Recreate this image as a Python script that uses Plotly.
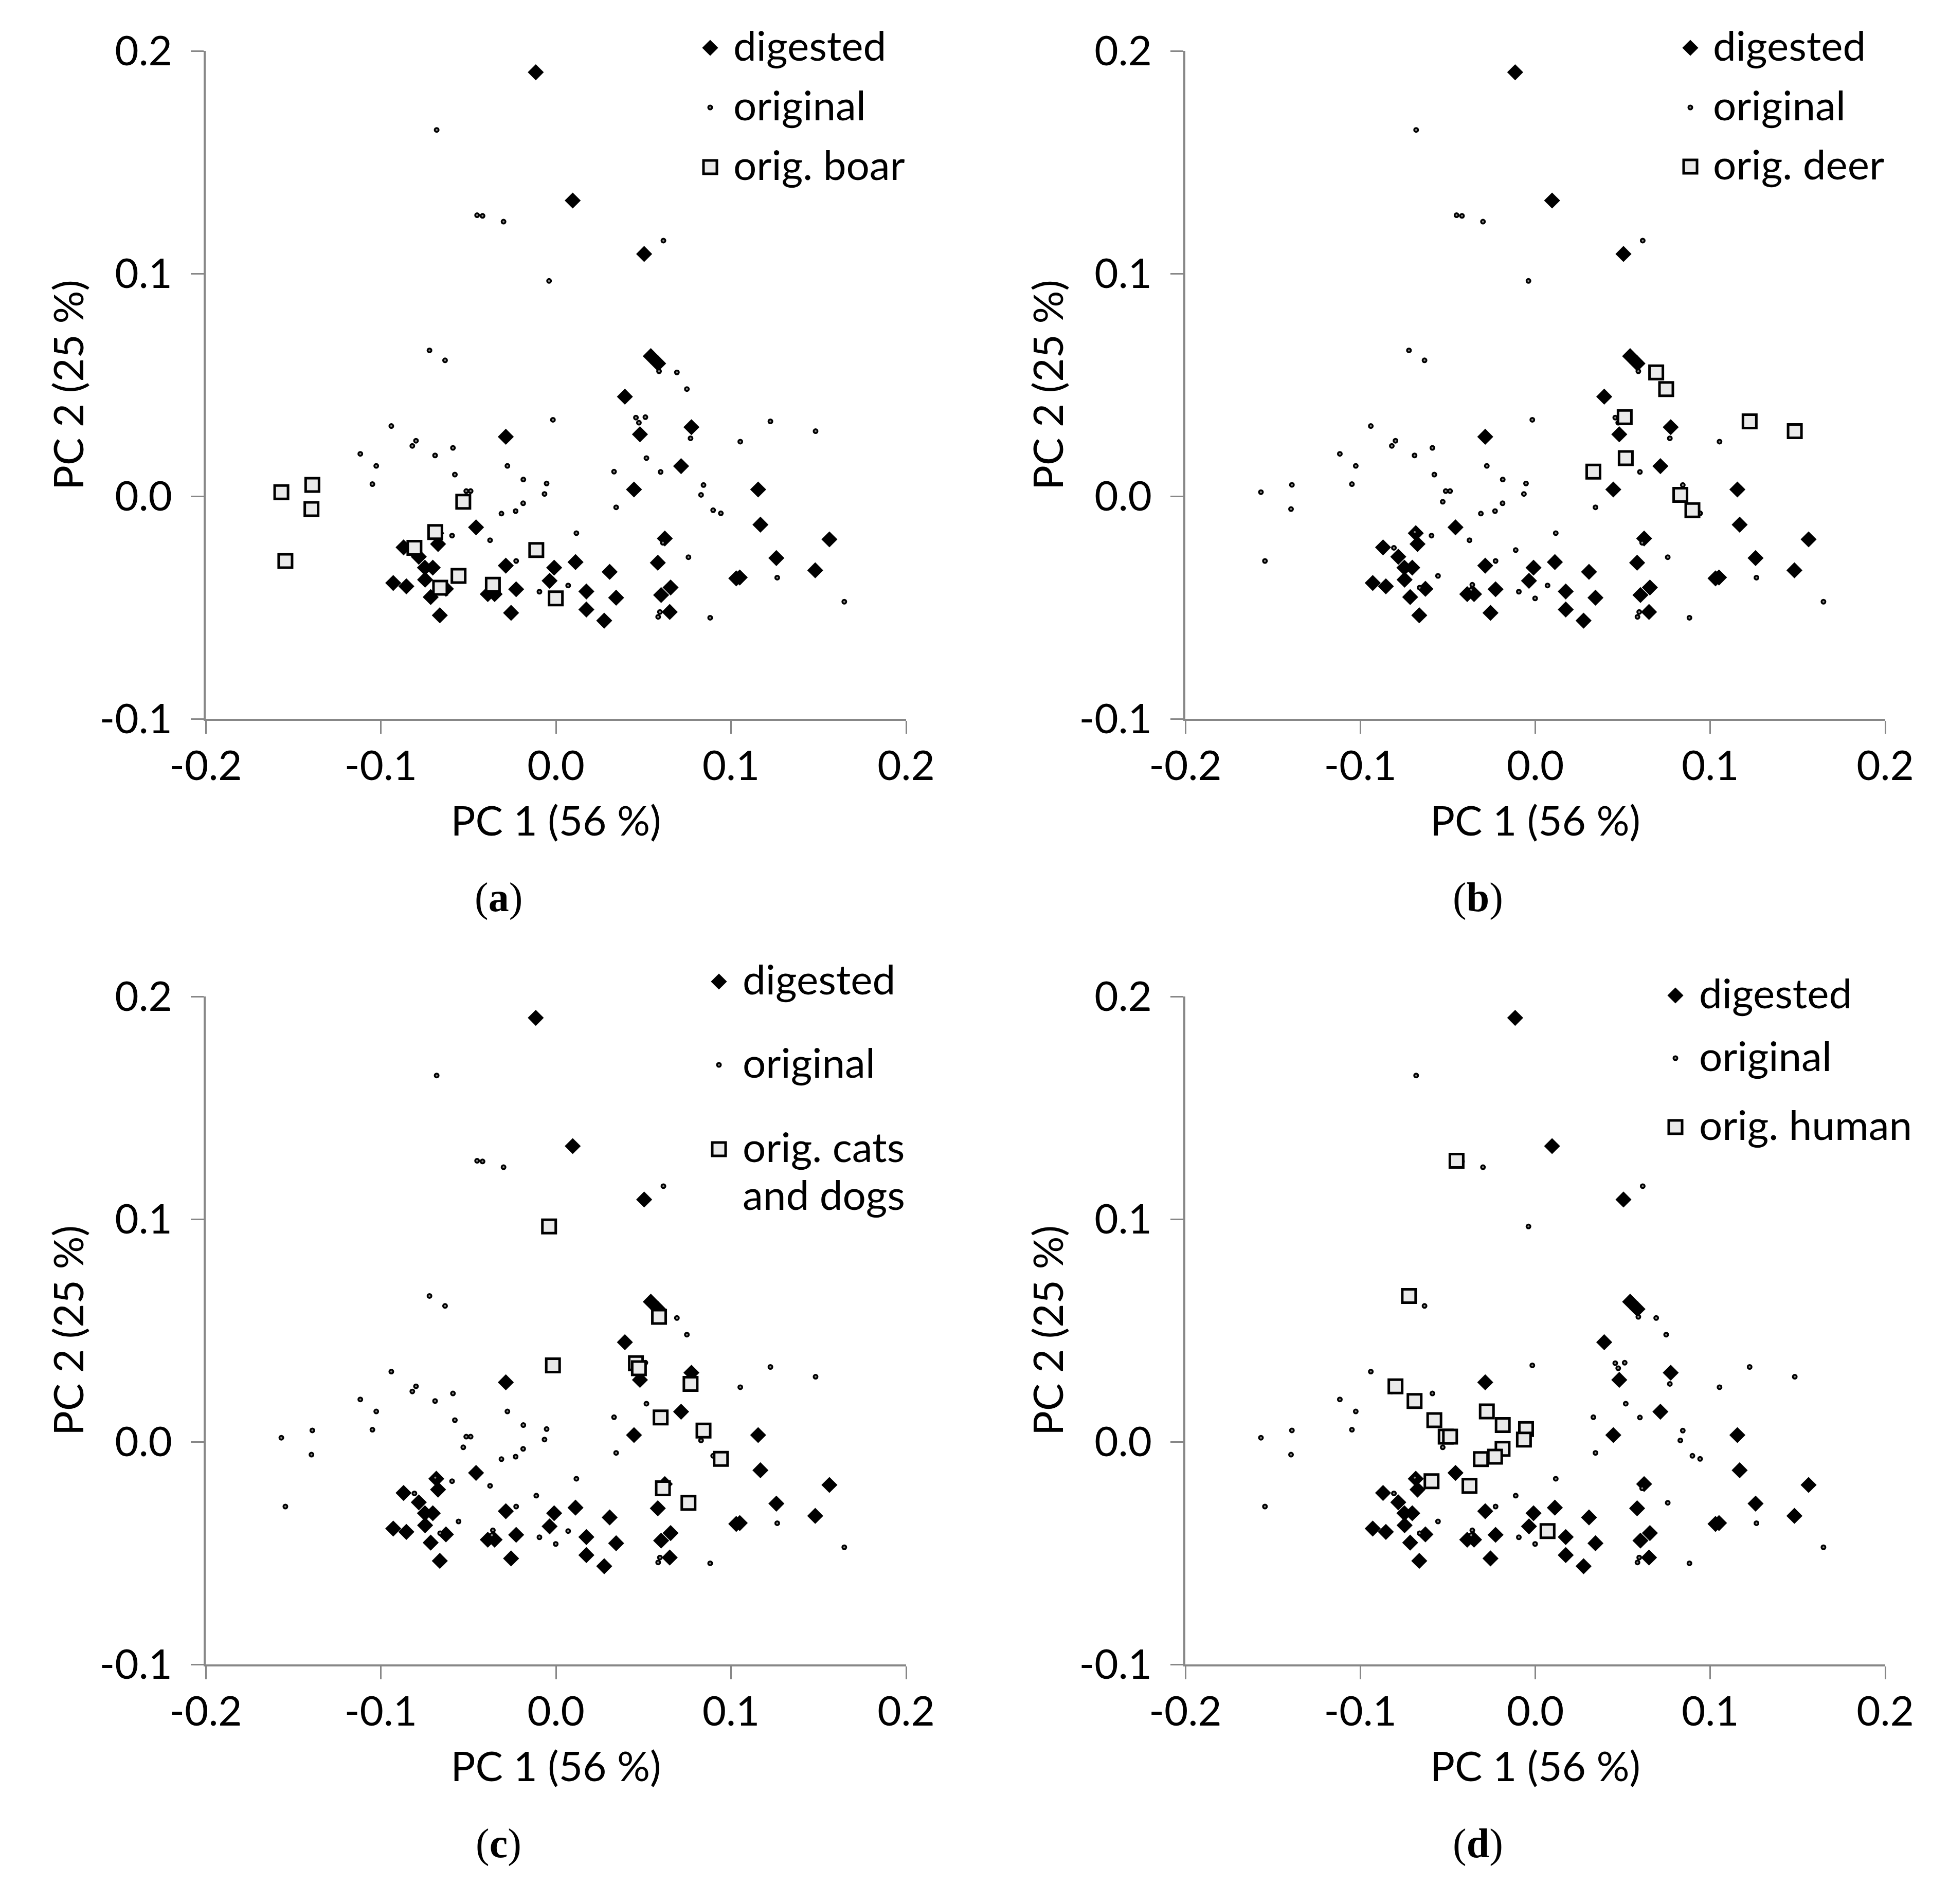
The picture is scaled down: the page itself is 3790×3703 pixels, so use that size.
import plotly.graph_objects as go

# ---- data ----
# digested samples (identical in every panel)
digested_x = [-0.0115, 0.0096, 0.0504, 0.0542, 0.0584, 0.0394, 0.0774, 0.0480, 0.0715, 0.0446,
              0.1155, 0.1168, 0.0622, 0.1562, 0.1259, 0.0112, 0.0582, -0.0010, 0.1481, 0.0307,
              0.1030, 0.1050, 0.0174, 0.0344, 0.0655, 0.0601, 0.0174, 0.0650, 0.0276, -0.0286,
              -0.0456, -0.0683, -0.0673, -0.0870, -0.0783, -0.0748, -0.0703, -0.0747, -0.0929, -0.0854,
              -0.0715, -0.0628, -0.0286, -0.0389, -0.0350, -0.0227, -0.0663, -0.0256, -0.0036]
digested_y = [0.1904, 0.1328, 0.1088, 0.0629, 0.0596, 0.0447, 0.0310, 0.0278, 0.0135, 0.0030,
              0.0030, -0.0128, -0.0190, -0.0194, -0.0278, -0.0296, -0.0299, -0.0321, -0.0333, -0.0340,
              -0.0369, -0.0365, -0.0428, -0.0456, -0.0410, -0.0444, -0.0509, -0.0520, -0.0559, 0.0267,
              -0.0140, -0.0166, -0.0215, -0.0230, -0.0272, -0.0321, -0.0321, -0.0375, -0.0390, -0.0405,
              -0.0453, -0.0416, -0.0312, -0.0440, -0.0440, -0.0418, -0.0535, -0.0524, -0.0380]

# original samples outside the four highlighted groups
other_x = [-0.0681, -0.0419, -0.0299, 0.0614, -0.0633, -0.0940, -0.0820, -0.0588, -0.1117, -0.1026,
           -0.1048, -0.0227, -0.0366, -0.0094, 0.1053, 0.0344, 0.0117, 0.1264, 0.1647, 0.0594,
           0.0584, 0.0881]
other_y = [0.1645, 0.1259, 0.1233, 0.1148, 0.0610, 0.0315, 0.0226, 0.0217, 0.0190, 0.0136,
           0.0054, -0.0291, -0.0420, -0.0429, 0.0245, -0.0050, -0.0166, -0.0366, -0.0474, -0.0520,
           -0.0542, -0.0546]

boar_x = [-0.1568, -0.1391, -0.1396, -0.1545, -0.0529, -0.0689, -0.0808, -0.0556, -0.0661, -0.0112,
          -0.0360, -0.0001]
boar_y = [0.0018, 0.0051, -0.0058, -0.0291, -0.0025, -0.0161, -0.0232, -0.0358, -0.0411, -0.0242,
          -0.0398, -0.0459]

deer_x = [0.0691, 0.0748, 0.0511, 0.1225, 0.1483, 0.0517, 0.0332, 0.0829, 0.0898]
deer_y = [0.0556, 0.0481, 0.0355, 0.0336, 0.0292, 0.0171, 0.0110, 0.0006, -0.0063]

cats_x = [-0.0039, -0.0017, 0.0589, 0.0457, 0.0474, 0.0769, 0.0598, 0.0843, 0.0942, 0.0611, 0.0757]
cats_y = [0.0967, 0.0343, 0.0561, 0.0353, 0.0330, 0.0260, 0.0109, 0.0050, -0.0077, -0.0209, -0.0274]

human_x = [-0.0450, -0.0722, -0.0799, -0.0690, -0.0577, -0.0512, -0.0487, -0.0277, -0.0186, -0.0053,
           -0.0065, -0.0187, -0.0230, -0.0311, -0.0593, -0.0376, 0.0070]
human_y = [0.1262, 0.0655, 0.0249, 0.0183, 0.0097, 0.0023, 0.0023, 0.0136, 0.0075, 0.0057,
           0.0010, -0.0032, -0.0067, -0.0078, -0.0177, -0.0198, -0.0401]

x_ticks = [-0.2, -0.1, 0.0, 0.1, 0.2]
x_tick_labels = ["-0.2", "-0.1", "0.0", "0.1", "0.2"]
y_ticks = [-0.1, 0.0, 0.1, 0.2]
y_tick_labels = ["-0.1", "0.0", "0.1", "0.2"]

panel_letters = ["a", "b", "c", "d"]
group_labels = [["orig. boar"], ["orig. deer"], ["orig. cats", "and dogs"], ["orig. human"]]
group_data = [(boar_x, boar_y), (deer_x, deer_y), (cats_x, cats_y), (human_x, human_y)]

# ---- page geometry (pixels) ----
W, H = 3790, 3703
COLS = [(400, 1762), (2305, 3666)]
ROWS = [(99, 1398), (1938, 3237)]
# legend: key x, text x, row centres
LEGENDS = [
    (1381, 1424, [93, 209, 325]),
    (3287, 3329, [93, 209, 324]),
    (1398, 1442, [1909, 2071, 2235]),
    (3258, 3302, [1936, 2058, 2192]),
]
CAPTIONS = [(969, 1745), (2874, 1745), (969, 3585), (2874, 3585)]

FONT = "Lato"
GREY = "#878787"

diamond = dict(symbol="diamond", size=24, color="black", line=dict(width=0))
dot = dict(symbol="circle", size=7.5, color="#8a8a8a", line=dict(width=3.5, color="black"))
box = dict(symbol="square", size=26, color="#eaeaea", line=dict(width=5, color="black"))

fig = go.Figure()
layout = dict(
    width=W, height=H, margin=dict(l=0, r=0, t=0, b=0),
    paper_bgcolor="white", plot_bgcolor="rgba(0,0,0,0)",
    showlegend=False, font=dict(family=FONT, size=80, color="black"),
    annotations=[],
)

for i in range(4):
    r, c = divmod(i, 2)
    sfx = "" if i == 0 else str(i + 1)
    gx, gy = group_data[i]
    ox, oy = list(other_x), list(other_y)
    for j, (ax_, ay_) in enumerate(group_data):
        if j != i:
            ox += ax_
            oy += ay_

    fig.add_trace(go.Scatter(x=digested_x, y=digested_y, mode="markers", marker=diamond,
                             name="digested", xaxis="x" + sfx, yaxis="y" + sfx))
    fig.add_trace(go.Scatter(x=ox, y=oy, mode="markers", marker=dot,
                             name="original", xaxis="x" + sfx, yaxis="y" + sfx))
    fig.add_trace(go.Scatter(x=gx, y=gy, mode="markers", marker=box,
                             name=" ".join(group_labels[i]), xaxis="x" + sfx, yaxis="y" + sfx))

    x0, x1 = COLS[c]
    y0, y1 = ROWS[r]
    common = dict(showline=True, linecolor=GREY, linewidth=4, mirror=False, automargin=False,
                  ticks="outside", ticklen=25, tickwidth=3, tickcolor=GREY,
                  showgrid=False, zeroline=False,
                  tickfont=dict(family=FONT, size=80, color="black"))
    layout["xaxis" + sfx] = dict(common, domain=[x0 / W, x1 / W], range=[-0.2, 0.2],
                                 anchor="y" + sfx, tickvals=x_ticks, ticktext=x_tick_labels,
                                 ticklabelstandoff=-6,
                                 title=dict(text="PC 1 (56 %)", standoff=37,
                                            font=dict(family=FONT, size=80, color="black")))
    layout["yaxis" + sfx] = dict(common, domain=[1 - y1 / H, 1 - y0 / H], range=[-0.1, 0.2],
                                 anchor="x" + sfx, tickvals=y_ticks, ticktext=y_tick_labels,
                                 ticklabelstandoff=20,
                                 title=dict(text="PC 2 (25 %)", standoff=6,
                                            font=dict(family=FONT, size=80, color="black")))

    # legend keys and text
    kx, tx, rows = LEGENDS[i]
    names = ["digested", "original"] + group_labels[i]
    for k, sym in enumerate([diamond, dot, box]):
        fig.add_trace(go.Scatter(x=[kx], y=[rows[k]], mode="markers", marker=sym,
                                 xaxis="x5", yaxis="y5", hoverinfo="skip"))
    text_rows = rows + [rows[2] + 93 * n for n in range(1, len(group_labels[i]))]
    for name, ty in zip(names, text_rows):
        layout["annotations"].append(dict(text=name, x=tx, y=ty - 6, xref="x5", yref="y5",
                                          xanchor="left", yanchor="middle", showarrow=False,
                                          font=dict(family=FONT, size=80, color="black")))

    cx, cy = CAPTIONS[i]
    layout["annotations"].append(dict(text="(<b>%s</b>)" % panel_letters[i], x=cx, y=cy,
                                      xref="x5", yref="y5", xanchor="center", yanchor="middle",
                                      showarrow=False,
                                      font=dict(family="Liberation Serif", size=80, color="black")))

# overlay axes in page pixels for legend keys and captions
layout["xaxis5"] = dict(domain=[0, 1], range=[0, W], visible=False, anchor="y5", automargin=False)
layout["yaxis5"] = dict(domain=[0, 1], range=[H, 0], visible=False, anchor="x5", automargin=False)

fig.update_layout(**layout)
fig.write_html("out.html", config={"displayModeBar": False},
               post_script="document.body.style.margin='0';document.body.style.overflow='hidden';")
